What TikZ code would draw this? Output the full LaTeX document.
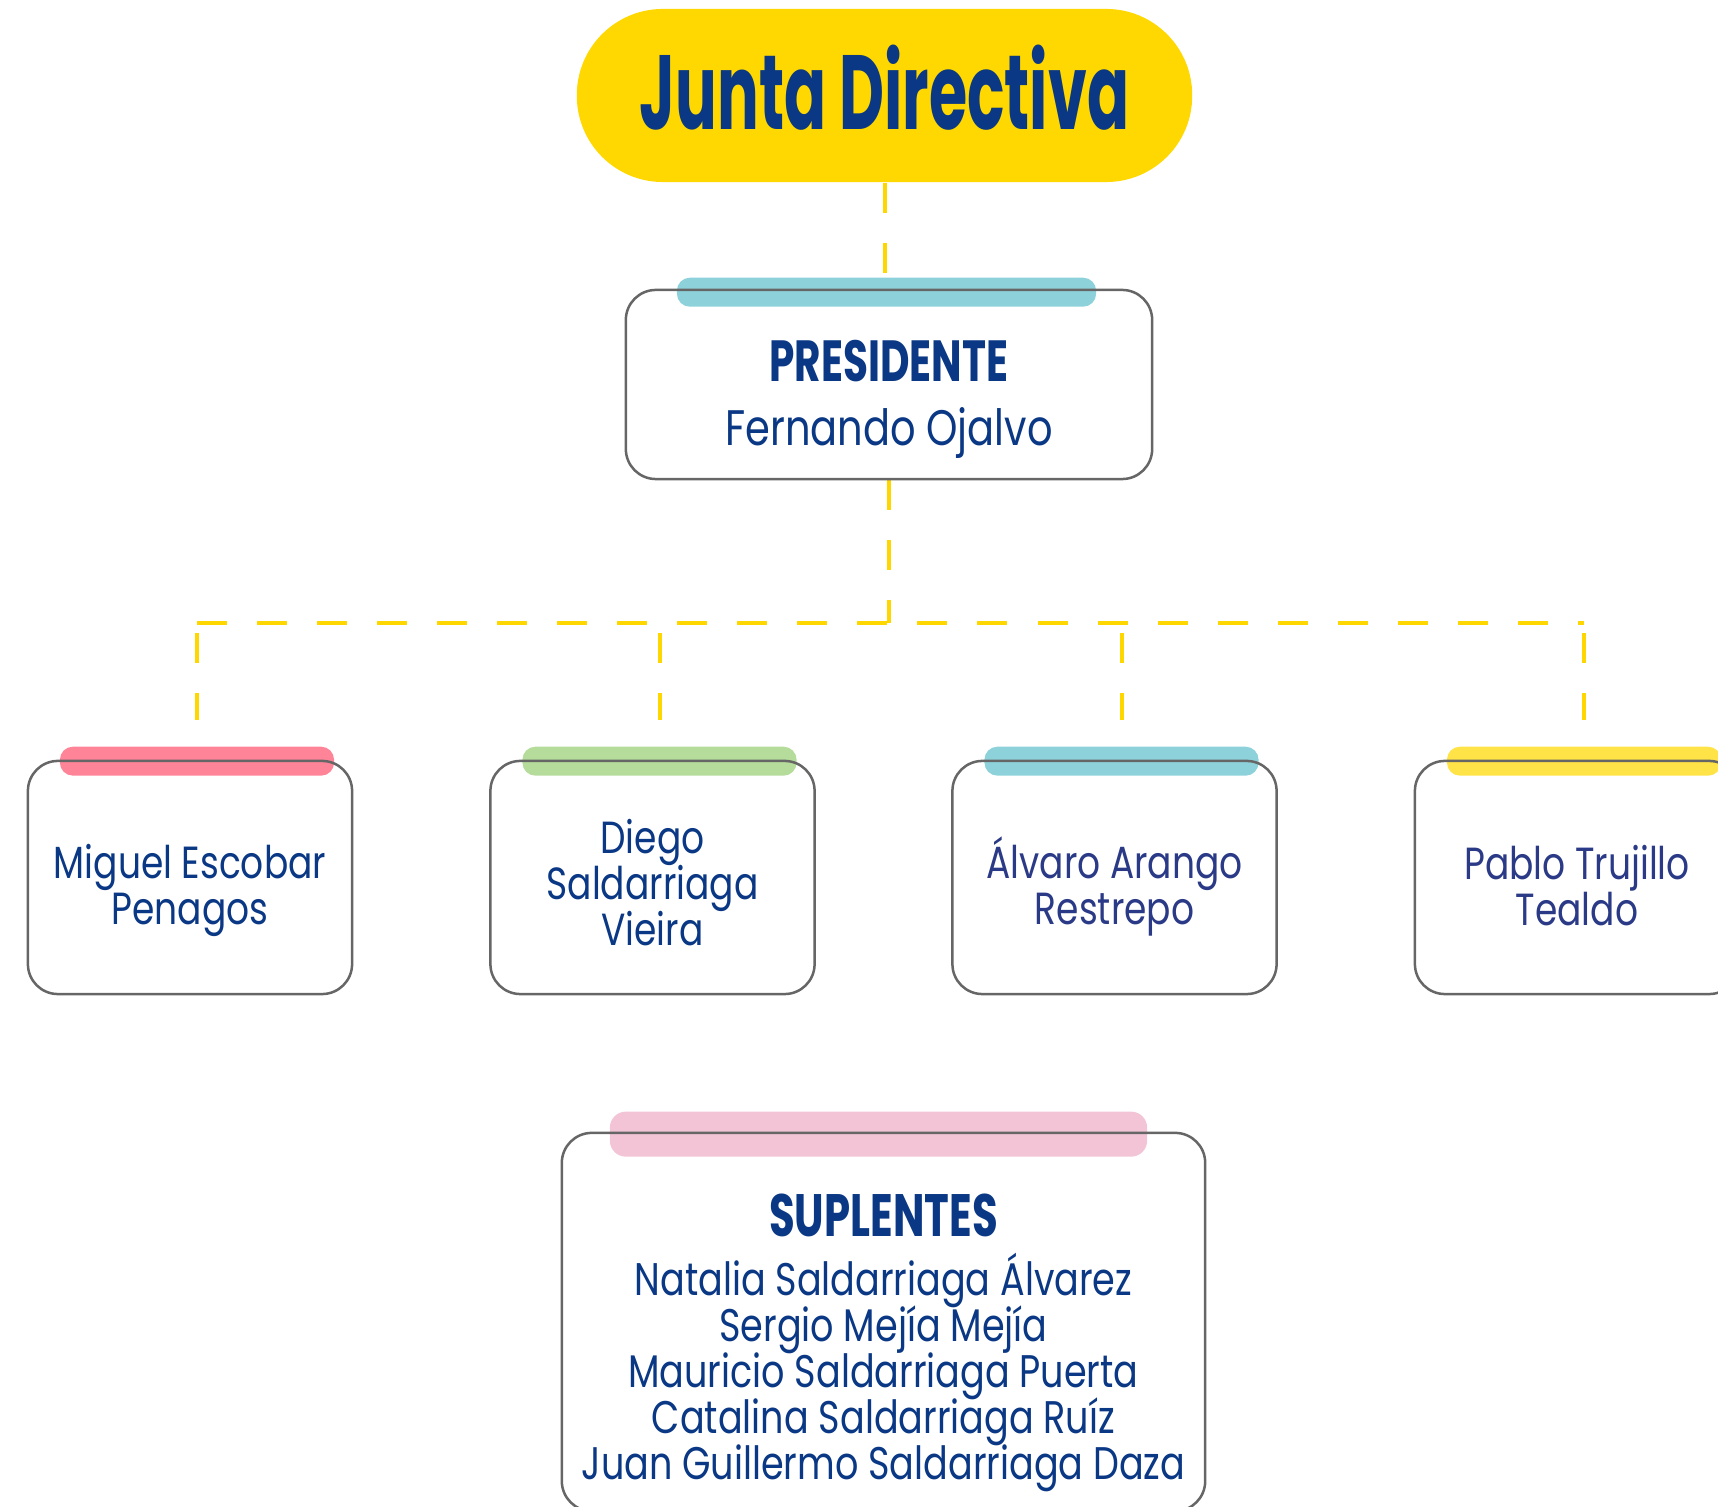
\documentclass[tikz,border=0pt]{standalone}
\usepackage{fontspec}
\setmainfont{Poppins}[FakeStretch=0.8]
\newfontfamily\headfont{Poppins}[FakeStretch=0.7]
\newfontfamily\titlefont{Poppins}[FakeStretch=0.587]
\usetikzlibrary{positioning}
\definecolor{navy}{HTML}{0A3884}
\definecolor{indigo}{HTML}{2B3A86}
\definecolor{pillyellow}{HTML}{FED800}
\definecolor{linkyellow}{HTML}{FFD700}
\definecolor{cardgray}{HTML}{666666}
\definecolor{tealbar}{HTML}{8DD2DA}
\definecolor{rosebar}{HTML}{FF8497}
\definecolor{greenbar}{HTML}{B5DC9B}
\definecolor{goldbar}{HTML}{FFE347}
\definecolor{pinkbar}{HTML}{F2C4D6}
\pgfdeclarelayer{links}
\pgfdeclarelayer{bars}
\pgfsetlayers{links,bars,main}
\lineskiplimit=-20pt

\begin{document}
\begin{tikzpicture}[x=0.01cm,y=-0.01cm,
    link/.style={draw=linkyellow,line width=0.04cm,dash pattern=on 0.3cm off 0.3cm},
    card/.style={draw=cardgray,line width=0.025cm,rounded corners=0.3cm},
    member/.style={card,minimum width=3.24cm,minimum height=2.33cm},
    tagbar/.style={rounded corners=0.13cm,minimum width=2.74cm,minimum height=0.29cm,inner sep=0pt},
    cardtext/.style={align=center,text=navy,inner sep=0pt,font=\fontsize{13}{13.1}\selectfont},
    membertext/.style={cardtext,font=\fontsize{12.8}{13.1}\selectfont}]
  \useasboundingbox (0,0) rectangle (1718,1507);
  % Title
  \node[fill=pillyellow,rounded corners=0.86cm,minimum width=6.15cm,minimum height=1.73cm,
    text depth=0.16cm,text=navy,font=\titlefont\bfseries\fontsize{30}{30}\selectfont]
    (title) at (884.5,95.5) {Junta Directiva};
  % President
  \node[card,minimum width=5.26cm,minimum height=1.89cm] (pres) at (889,384.5) {};
  \node[cardtext] (presname) at ([yshift=-0.15cm]pres.center)
    {{\headfont\bfseries\fontsize{16.5}{16.5}\selectfont PRESIDENTE}\\[0.18cm]
     {\fontsize{14.2}{13.1}\selectfont Fernando Ojalvo}};
  % Members
  \node[member] (m1) at (190,877.5) {};
  \node[member] (m2) at (652.5,877.5) {};
  \node[member] (m3) at (1114.5,877.5) {};
  \node[member] (m4) at (1577,877.5) {};
  \node[membertext] (m1name) at ([yshift=-0.126cm]m1.center) {Miguel Escobar\\Penagos};
  \node[membertext] (m2name) at ([yshift=-0.055cm]m2.center) {Diego\\Saldarriaga\\Vieira};
  \node[membertext,text=indigo] (m3name) at ([yshift=-0.09cm]m3.center) {Álvaro Arango\\Restrepo};
  \node[membertext,text=indigo] (m4name) at ([yshift=-0.077cm]m4.center) {Pablo Trujillo\\Tealdo};
  % Substitutes
  \node[card,minimum width=6.43cm,minimum height=3.78cm] (sup) at (883.5,1322) {};
  \node[cardtext] (supnames) at ([yshift=-0.21cm]sup.center)
    {{\headfont\bfseries\fontsize{17}{17}\selectfont SUPLENTES}\\[0.13cm]
     Natalia Saldarriaga Álvarez\\Sergio Mejía Mejía\\Mauricio Saldarriaga Puerta\\
     Catalina Saldarriaga Ruíz\\Juan Guillermo Saldarriaga Daza};
  % Colour tabs
  \begin{pgfonlayer}{bars}
    \node[tagbar,fill=tealbar,minimum width=4.19cm] (presbar) at ([xshift=-0.025cm,yshift=-0.035cm]pres.north) {};
    \node[tagbar,fill=rosebar] (bar1) at ([xshift=0.07cm,yshift=-0.015cm]m1.north) {};
    \node[tagbar,fill=greenbar] (bar2) at ([xshift=0.07cm,yshift=-0.015cm]m2.north) {};
    \node[tagbar,fill=tealbar] (bar3) at ([xshift=0.07cm,yshift=-0.015cm]m3.north) {};
    \node[tagbar,fill=goldbar] (bar4) at ([xshift=0.07cm,yshift=-0.015cm]m4.north) {};
    \node[tagbar,fill=pinkbar,rounded corners=0.16cm,minimum width=5.37cm,minimum height=0.45cm]
      (supbar) at ([xshift=-0.05cm,yshift=-0.025cm]sup.north) {};
  \end{pgfonlayer}
  % Connectors
  \begin{pgfonlayer}{links}
    \coordinate (bus) at (887,623);
    \draw[link] (title.south) -- (title.south |- presbar.north);
    \draw[link] (pres.south) -- (pres.south |- bus);
    \draw[link] (bar1.north |- bus) -- (bar4.north |- bus);
    \foreach \b in {bar1,bar2,bar3,bar4}
      \draw[link,shorten <=0.1cm,shorten >=0.26cm] (\b.north |- bus) -- (\b.north);
  \end{pgfonlayer}
\end{tikzpicture}
\end{document}
